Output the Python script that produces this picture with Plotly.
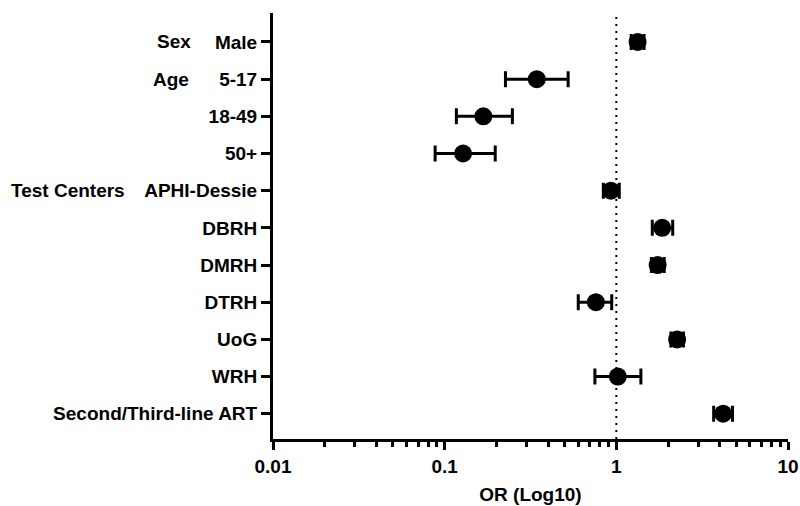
import plotly.graph_objects as go

categories = ["Male", "5-17", "18-49", "50+", "APHI-Dessie", "DBRH", "DMRH",
              "DTRH", "UoG", "WRH", "Second/Third-line ART"]
or_vals = [1.33, 0.344, 0.168, 0.128, 0.93, 1.85, 1.74, 0.76, 2.26, 1.02, 4.19]
ci_low = [1.22, 0.226, 0.117, 0.088, 0.84, 1.62, 1.60, 0.60, 2.08, 0.75, 3.69]
ci_high = [1.45, 0.524, 0.248, 0.197, 1.04, 2.13, 1.90, 0.94, 2.46, 1.39, 4.75]
groups = [("Sex", 0), ("Age", 1), ("Test Centers", 4)]
x_ticks = [0.01, 0.1, 1, 10]
x_tick_text = ["0.01", "0.1", "1", "10"]
ref_line = 1

FONT = "Liberation Sans, Arial, sans-serif"
FS = 19
rows = list(range(len(categories)))
y_range = [len(categories) - 1 + 0.68, -0.78]

fig = go.Figure()

# reference dotted line at OR = 1
fig.add_trace(go.Scatter(
    x=[ref_line, ref_line], y=y_range, mode="lines",
    line=dict(color="black", width=2, dash="2px,5px"),
    hoverinfo="skip", showlegend=False, cliponaxis=False))

fig.add_trace(go.Scatter(
    x=or_vals, y=rows, mode="markers",
    marker=dict(color="black", size=18),
    error_x=dict(type="data", symmetric=False,
                 array=[h - v for h, v in zip(ci_high, or_vals)],
                 arrayminus=[v - l for v, l in zip(or_vals, ci_low)],
                 color="black", thickness=3, width=8),
    showlegend=False, cliponaxis=False))

minor_vals = [m * 10 ** e for e in (-2, -1, 0) for m in range(2, 10)]

fig.update_xaxes(
    type="log", range=[-2, 1], tickmode="array", tickvals=x_ticks, ticktext=x_tick_text,
    ticks="outside", ticklen=8, tickwidth=2.5, tickcolor="black",
    showline=True, linewidth=3, linecolor="black", showgrid=False, zeroline=False,
    automargin=False,
    tickfont=dict(family=FONT, size=FS, color="black", weight="bold"),
    minor=dict(tickmode="array", tickvals=minor_vals, ticks="outside", ticklen=5,
               tickwidth=2.5, tickcolor="black", showgrid=False),
    title=dict(text="OR (Log10)", standoff=12,
               font=dict(family=FONT, size=FS, color="black", weight="bold")),
)
fig.update_yaxes(
    range=y_range, tickmode="array", tickvals=rows, ticktext=categories,
    ticks="outside", ticklen=9, tickwidth=2.5, tickcolor="black",
    showline=True, linewidth=3, linecolor="black", showgrid=False, zeroline=False,
    automargin=False,
    tickfont=dict(family=FONT, size=FS, color="black", weight="bold"),
)

shifts = {"Sex": -80, "Age": -82, "Test Centers": -146}
for name, row in groups:
    fig.add_annotation(
        x=0, xref="paper", y=row, yref="y", text=name, showarrow=False,
        xanchor="right", yanchor="middle", xshift=shifts[name],
        font=dict(family=FONT, size=FS, color="black", weight="bold"))

fig.update_layout(
    width=800, height=506, margin=dict(l=273, r=12, t=13, b=67),
    paper_bgcolor="white", plot_bgcolor="white",
)

fig.write_html("out.html")
